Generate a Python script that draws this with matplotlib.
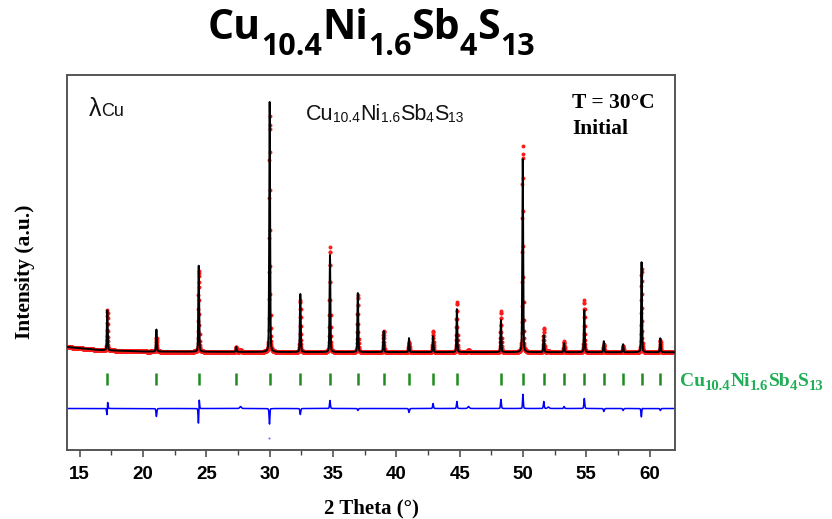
import matplotlib
matplotlib.use("Agg")
import matplotlib.pyplot as plt
from matplotlib.ticker import MultipleLocator
import numpy as np

# ---- Rietveld refinement data: Cu10.4Ni1.6Sb4S13, Cu K-alpha, T = 30 C ----
# Bragg reflections of the tetrahedrite phase (2-theta, degrees)
bragg_2theta = [17.18, 21.06, 24.40, 27.36, 30.00, 32.42, 34.76, 36.96, 39.00, 41.00,
                42.90, 44.78, 48.26, 49.98, 51.64, 53.24, 54.84, 56.38, 57.90, 59.36, 60.84]
# calculated peak intensities (counts above background)
calc_height = [1600, 880, 3440, 200, 10000, 2320, 3880, 2360, 840, 560,
               640, 1720, 1280, 7720, 680, 360, 1680, 440, 320, 3600, 560]
# observed peak intensities (counts above background)
obs_height = [1600, 560, 3240, 200, 9440, 2080, 4200, 2280, 840, 400,
              840, 2000, 1640, 8240, 960, 440, 2080, 320, 240, 3320, 480]
# observed peak offsets from the calculated positions (degrees)
obs_shift = [0.009, 0.0, 0.008, 0.0, 0.001, 0.0, 0.0, 0.0, 0.0, 0.0,
             0.0, 0.0, 0.0, 0.001, 0.0, 0.0, 0.0, 0.0, 0.0, 0.002, 0.0]
# weak unindexed features in the observed pattern
extra_2theta = [27.7, 45.7, 52.0]
extra_height = [80, 80, 60]
# refined background points
bg_2theta = [14.0, 16.5, 20.0, 30.0, 62.0]
bg_counts = [620, 500, 440, 420, 410]
# isolated difference point
outlier_2theta = [29.98]
outlier_diff = [-1160]

phase_label = [("Cu", False), ("10.4", True), ("Ni", False), ("1.6", True),
               ("Sb", False), ("4", True), ("S", False), ("13", True)]

# ---- profile computation ----
step = 0.01
fwhm = 0.08
eta = 0.25
tt = np.round(np.arange(14.0, 62.0 + step / 2, step), 4)


def pseudo_voigt(x, x0, h, w, mix):
    d = (x - x0) / (w / 2.0)
    return h * (mix / (1.0 + d ** 2) + (1.0 - mix) * np.exp(-np.log(2.0) * d ** 2))


background = np.interp(tt, bg_2theta, bg_counts)
y_calc = background.copy()
y_obs = background.copy()
for p, hc, ho, s in zip(bragg_2theta, calc_height, obs_height, obs_shift):
    y_calc += pseudo_voigt(tt, p, hc, fwhm, eta)
    y_obs += pseudo_voigt(tt, p + s, ho, fwhm, eta)
for p, h in zip(extra_2theta, extra_height):
    y_obs += pseudo_voigt(tt, p, h, 0.15, eta)
y_diff = y_obs - y_calc

# ---- figure ----
W, H = 832, 519
fig = plt.figure(figsize=(W / 100, H / 100), dpi=100)
ax = fig.add_axes([67 / W, 1 - 450 / H, (675 - 67) / W, (450 - 75) / H])

diff_offset = -1840
tick_level = -660
tick_half = 240

ax.plot(tt, y_obs, linestyle="none", marker="o", markersize=2.8,
        markerfacecolor="#ff1a1a", markeredgewidth=0, zorder=2)
ax.plot(tt, y_calc, color="black", lw=1.4, zorder=3)
ax.vlines(bragg_2theta, tick_level - tick_half, tick_level + tick_half,
          color="#1f8a1f", lw=1.8, zorder=2)
ax.plot(tt, y_diff + diff_offset, color="#0000ff", lw=1.1, zorder=2)
ax.plot(outlier_2theta, np.array(outlier_diff) + diff_offset, linestyle="none",
        marker="o", markersize=1.5, color="#6f6fff", markeredgewidth=0)

ax.set_xlim(14, 62)
ax.set_ylim(-3500, 11500)
ax.xaxis.set_major_locator(MultipleLocator(5))
ax.xaxis.set_minor_locator(MultipleLocator(2.5))
ax.tick_params(axis="x", which="major", direction="out", length=5, width=1.1,
               color="#444444", pad=6.5, labelsize=13.5)
ax.tick_params(axis="x", which="minor", direction="out", length=3.5, width=1.0,
               color="#444444")
ax.set_yticks([])
for lbl in ax.get_xticklabels():
    lbl.set_fontfamily("Liberation Sans")
    lbl.set_fontweight("bold")
for sp in ax.spines.values():
    sp.set_color("#555555")
    sp.set_linewidth(1.4)

serif = "Liberation Serif"
sans = "Liberation Sans"


def fx(px):
    return px / W


def fy(py):
    return 1 - py / H


renderer = fig.canvas.get_renderer()


def formula(x_px, y_px, parts, size, sub_size, drop_px, **kw):
    x = x_px
    for s, is_sub in parts:
        yy = y_px + (drop_px if is_sub else 0)
        t = fig.text(fx(x), fy(yy), s, fontsize=sub_size if is_sub else size,
                     ha="left", va="baseline", **kw)
        x += t.get_window_extent(renderer).width
    return x


# title
formula(208, 39, phase_label, 29.5, 22, 16, family="Open Sans", weight="bold", color="black")
# phase name inside the plot
formula(306, 120, phase_label, 15.5, 10, 1.5, family=sans, color="#111111")
# phase label next to the reflection markers
formula(680, 386.5, phase_label, 14, 10.5, 3.5, family=serif, weight="bold",
        color="#1fae55")

# wavelength tag
lam = fig.text(fx(89), fy(116.5), "\u03bb", fontsize=18, family=sans,
               ha="left", va="baseline", color="#111111")
lw_px = lam.get_window_extent(renderer).width
fig.text(fx(89 + lw_px), fy(116.5), "Cu", fontsize=13, family=sans,
         ha="left", va="baseline", color="#111111")

# measurement conditions
fig.text(fx(572), fy(108.5), "T = 30\u00b0C", fontsize=15.5, family=serif,
         weight="bold", ha="left", va="baseline")
fig.text(fx(572), fy(133.5), "Initial", fontsize=15.5, family=serif,
         weight="bold", ha="left", va="baseline")

# axis labels
fig.text(fx(371), fy(513), "2 Theta (\u00b0)", fontsize=15, family=serif,
         weight="bold", ha="center", va="baseline")
fig.text(fx(25), fy(272), "Intensity (a.u.)", fontsize=15.5, family=serif,
         weight="bold", ha="center", va="center", rotation=90)

fig.savefig("out.png", dpi=100)
